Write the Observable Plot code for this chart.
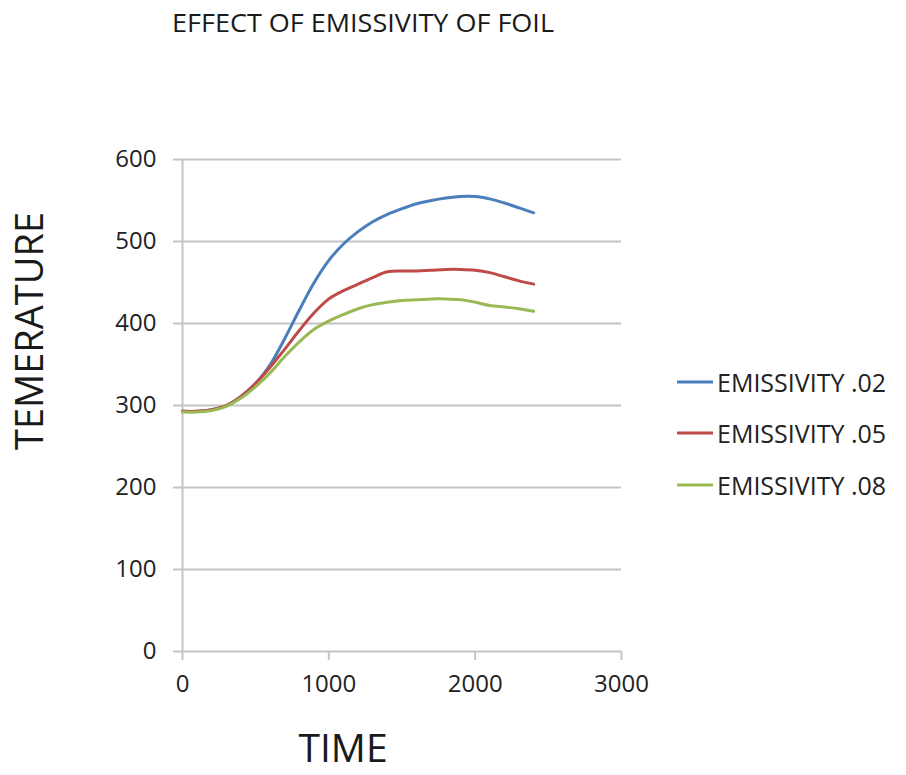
<!DOCTYPE html>
<html>
<head>
<meta charset="utf-8">
<script src="https://cdn.jsdelivr.net/npm/d3@7"></script>
<script src="https://cdn.jsdelivr.net/npm/@observablehq/plot@0.6"></script>
<style>
  body { margin: 0; background: #fff; }
  #wrap { position: relative; width: 906px; height: 775px; overflow: hidden; font-family: "Open Sans", sans-serif; }
  #wrap > svg.plot { position: absolute; left: 0; top: 0; }
  #legend { position: absolute; left: 676px; top: 356px; }
  .lg { display: flex; align-items: center; height: 51.5px; font-size: 25px; color: #222; }
  .lg svg { margin-right: 3px; }
</style>
</head>
<body>
<div id="wrap"></div>
<script>
const times = [0,100,200,300,400,500,600,700,800,900,1000,1100,1200,1300,1400,1500,1600,1700,1800,1900,2000,2100,2200,2300,2400];
const emis02 = [293,293,295,300,311,327,350,382,417,450,477,497,512,524,533,540,546,550,553,555,555,552,547,541,535];
const emis05 = [293,293,295,300,311,327,347,369,392,413,430,440,448,456,463,464,464,465,466,466,465,462,457,452,448];
const emis08 = [292,292,294,299,309,323,340,360,378,393,403,411,418,423,426,428,429,430,430,429,426,422,420,418,415];
const seriesNames = ["EMISSIVITY .02","EMISSIVITY .05","EMISSIVITY .08"];
const seriesColors = ["#4A7EBB","#BE4B48","#98B954"];
const xTicks = [0,1000,2000,3000];
const yTicks = [0,100,200,300,400,500,600];
const titleText = "EFFECT OF EMISSIVITY OF FOIL";
const xLabel = "TIME";
const yLabel = "TEMERATURE";

const allSeries = [emis02, emis05, emis08];
const data = [];
allSeries.forEach((vals, i) => times.forEach((t, j) => data.push({time: t, temp: vals[j], series: seriesNames[i]})));

const grid = "#c4c4c4";
const chart = Plot.plot({
  width: 906,
  height: 775,
  marginLeft: 182,
  marginRight: 285,
  marginTop: 159,
  marginBottom: 124,
  style: {fontFamily: "'Open Sans', sans-serif", fontSize: "24px", color: "#222", background: "transparent"},
  x: {domain: [0, 3000]},
  y: {domain: [0, 600]},
  color: {domain: seriesNames, range: seriesColors},
  marks: [
    Plot.gridY(yTicks, {stroke: grid, strokeOpacity: 1, strokeWidth: 2}),
    Plot.ruleX([0], {stroke: grid, strokeWidth: 2}),
    Plot.axisY(yTicks, {tickSize: 9, tickPadding: 17, stroke: grid, strokeWidth: 2, label: null, fontSize: 24, fill: "#222", tickFormat: d3.format("d")}),
    Plot.axisX(xTicks, {tickSize: 9, tickPadding: 14, stroke: grid, strokeWidth: 2, label: null, fontSize: 24, fill: "#222", tickFormat: d3.format("d")}),
    Plot.line(data, {x: "time", y: "temp", z: "series", stroke: "series", strokeWidth: 3, curve: "catmull-rom"})
  ]
});
chart.classList.add("plot");
const wrap = document.getElementById("wrap");
wrap.appendChild(chart);

// title
const tsvg = d3.select(wrap).append("svg").attr("width", 906).attr("height", 50)
  .style("position", "absolute").style("left", "0px").style("top", "0px");
tsvg.append("text").attr("x", 172).attr("y", 32)
  .attr("textLength", 382).attr("lengthAdjust", "spacingAndGlyphs")
  .style("font-family", "'Open Sans', sans-serif").style("font-size", "26px").style("fill", "#1a1a1a")
  .text(titleText);

// axis labels
const lsvg = d3.select(wrap).append("svg").attr("width", 906).attr("height", 775)
  .style("position", "absolute").style("left", "0px").style("top", "0px").style("pointer-events", "none");
lsvg.append("text").attr("x", 343).attr("y", 762).attr("text-anchor", "middle")
  .style("font-family", "'Open Sans', sans-serif").style("font-size", "39px").style("fill", "#1a1a1a")
  .text(xLabel);
lsvg.append("text").attr("transform", "translate(43,331) rotate(-90)").attr("text-anchor", "middle")
  .style("font-family", "'Open Sans', sans-serif").style("font-size", "38px").style("fill", "#1a1a1a")
  .text(yLabel);

// legend
const legend = document.createElement("div");
legend.id = "legend";
seriesNames.forEach((name, i) => {
  const row = document.createElement("div");
  row.className = "lg";
  row.innerHTML = `<svg width="38" height="6"><line x1="1" y1="3" x2="37" y2="3" stroke="${seriesColors[i]}" stroke-width="3"/></svg><span>${name}</span>`;
  legend.appendChild(row);
});
wrap.appendChild(legend);
</script>
</body>
</html>
